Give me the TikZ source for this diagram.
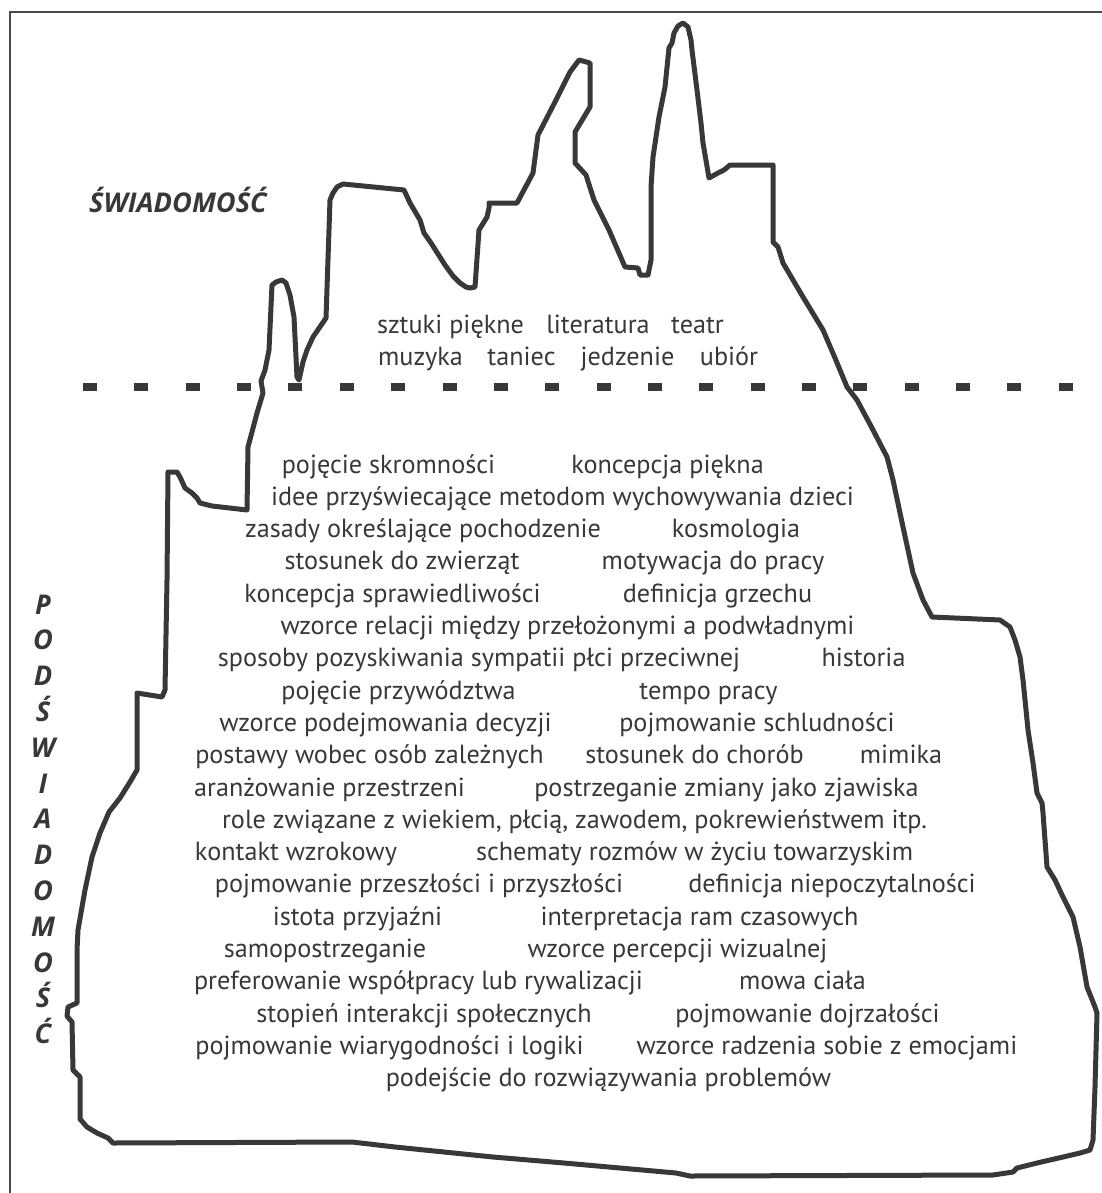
\documentclass[tikz,border=0pt]{standalone}
\usepackage{fontspec}
\setmainfont{PT Sans}
\newfontfamily\zonefont{Open Sans}
\definecolor{inkgray}{HTML}{383838}
\definecolor{framegray}{HTML}{4A4A4A}
\tikzset{
  cultitem/.style={text=inkgray, font=\fontsize{13.1}{15}\selectfont, inner sep=0pt, anchor=base},
  zonelabel/.style={text=inkgray, font=\zonefont\fontsize{13.6}{16}\selectfont\bfseries\itshape, inner sep=0pt, anchor=base},
  berg/.style={draw=inkgray, line width=2.5pt, line join=round, line cap=round},
  waterline/.style={draw=inkgray, line width=4pt, dash pattern=on 7pt off 18.68pt},
  frameline/.style={draw=framegray, line width=0.9pt}
}
\begin{document}
\begin{tikzpicture}[x=0.5pt,y=-0.5pt]
    \useasboundingbox (0,0) rectangle (1102,1193);

    % Frame (top and left edges only)
    \draw[frameline] (10,1193) -- (10,12) -- (1102,12);

    % Iceberg outline
    \draw[berg] (113,1143) -- (108,1138) -- (97,1133) -- (87,1127) -- (80,1119) -- (80,1077)
      -- (73,1070) -- (72,1022) -- (67,1016) -- (68,1007) -- (77,1003) -- (77,950) -- (78,930)
      -- (85,890) -- (92,857) -- (100,833) -- (109,812) -- (120,798) -- (130,782) -- (137,770)
      -- (137,693) -- (162,697) -- (165,690) -- (167,580) -- (168,472) -- (177,472) -- (180,477)
      -- (185,488) -- (192,493) -- (197,498) -- (200,503) -- (212,506) -- (247,510) -- (248,447)
      -- (257,413) -- (263,393) -- (261,381) -- (265,370) -- (269,350) -- (272,285) -- (276,282)
      -- (282,280) -- (286,283) -- (290,295) -- (294,317) -- (297,377) -- (299,380) -- (303,362)
      -- (307,350) -- (313,337) -- (326,318) -- (330,200) -- (333,193) -- (337,187) -- (343,184)
      -- (404,190) -- (410,203) -- (420,220) -- (424,233) -- (431,243) -- (445,265) -- (453,276)
      -- (460,283) -- (466,287) -- (470,288) -- (475,287) -- (479,230) -- (487,217) -- (489,208)
      -- (489,203) -- (517,203) -- (533,173) -- (538,135) -- (556,100) -- (570,72) -- (579,60)
      -- (590,63) -- (590,107) -- (575,132) -- (575,163) -- (586,175) -- (594,200) -- (609,230)
      -- (625,267) -- (638,268) -- (640,275) -- (648,275) -- (651,260) -- (651,187) -- (653,157)
      -- (659,117) -- (665,87) -- (669,48) -- (672,43) -- (674,33) -- (678,26) -- (683,23)
      -- (688,27) -- (691,40) -- (692,50) -- (697,90) -- (701,123) -- (703,143) -- (709,178)
      -- (718,173) -- (724,170) -- (730,165) -- (773,165) -- (773,242) -- (778,247) -- (783,263)
      -- (803,297) -- (823,330) -- (835,358) -- (847,387) -- (857,400) -- (872,428) -- (887,457)
      -- (893,480) -- (903,527) -- (913,573) -- (923,600) -- (932,617) -- (1000,620) -- (1010,627)
      -- (1015,640) -- (1020,657) -- (1023,680) -- (1028,730) -- (1033,763) -- (1037,793)
      -- (1042,803) -- (1043,813) -- (1047,867) -- (1055,880) -- (1062,895) -- (1068,907)
      -- (1073,917) -- (1080,947) -- (1087,987) -- (1095,1007) -- (1097,1013) -- (1096,1050)
      -- (1095,1087) -- (1093,1140) -- (1090,1150) -- (1080,1153) -- (1063,1157) -- (1037,1163)
      -- (1017,1168) -- (1013,1172) -- (993,1175) -- (690,1176) -- (676,1173) -- (564,1163)
      -- (493,1157) -- (395,1147) -- (352,1142) -- cycle;

    % Water line
    \draw[waterline] (83,387) -- (1075,387);

    % Zone labels
    \node[zonelabel] (swiadomosc) at (178,212) {ŚWIADOMOŚĆ};
    \foreach \ch [count=\i from 0] in {P,O,D,Ś,W,I,A,D,O,M,O,Ś,Ć}
        \node[zonelabel] (pod\i) at (43,{614+35.8*\i}) {\ch};

    % Above the water line
    \node[cultitem] (sztuki) at (450.5,333) {sztuki piękne};
    \node[cultitem] (literatura) at (598,333) {literatura};
    \node[cultitem] (teatr) at (697.5,333) {teatr};
    \node[cultitem] (muzyka) at (420.5,365) {muzyka};
    \node[cultitem] (taniec) at (521.5,365) {taniec};
    \node[cultitem] (jedzenie) at (627.5,365) {jedzenie};
    \node[cultitem] (ubior) at (729,365) {ubiór};

    % Below the water line
    \node[cultitem] (skromnosc) at (388.5,473) {pojęcie skromności};
    \node[cultitem] (piekno) at (667.5,473) {koncepcja piękna};
    \node[cultitem] (wychowanie) at (562.5,505.3) {idee przyświecające metodom wychowywania dzieci};
    \node[cultitem] (pochodzenie) at (423,537.6) {zasady określające pochodzenie};
    \node[cultitem] (kosmologia) at (736,537.6) {kosmologia};
    \node[cultitem] (zwierzeta) at (402,569.9) {stosunek do zwierząt};
    \node[cultitem] (motywacja) at (713,569.9) {motywacja do pracy};
    \node[cultitem] (sprawiedliwosc) at (392.5,602.2) {koncepcja sprawiedliwości};
    \node[cultitem] (grzech) at (717.5,602.2) {definicja grzechu};
    \node[cultitem] (relacje) at (567.5,634.5) {wzorce relacji między przełożonymi a podwładnymi};
    \node[cultitem] (sympatia) at (479,666.8) {sposoby pozyskiwania sympatii płci przeciwnej};
    \node[cultitem] (historia) at (863.5,666.8) {historia};
    \node[cultitem] (przywodztwo) at (398.5,699.1) {pojęcie przywództwa};
    \node[cultitem] (tempo) at (708.5,699.1) {tempo pracy};
    \node[cultitem] (decyzje) at (385.5,731.4) {wzorce podejmowania decyzji};
    \node[cultitem] (schludnosc) at (757,731.4) {pojmowanie schludności};
    \node[cultitem] (zalezni) at (369.5,763.7) {postawy wobec osób zależnych};
    \node[cultitem] (choroby) at (694.5,763.7) {stosunek do chorób};
    \node[cultitem] (mimika) at (901,763.7) {mimika};
    \node[cultitem] (przestrzen) at (329.5,796) {aranżowanie przestrzeni};
    \node[cultitem] (zmiana) at (726.5,796) {postrzeganie zmiany jako zjawiska};
    \node[cultitem] (role) at (574.5,828.3) {role związane z wiekiem, płcią, zawodem, pokrewieństwem itp.};
    \node[cultitem] (kontakt) at (296,860.6) {kontakt wzrokowy};
    \node[cultitem] (rozmowy) at (694.5,860.6) {schematy rozmów w życiu towarzyskim};
    \node[cultitem] (przeszlosc) at (419,892.9) {pojmowanie przeszłości i przyszłości};
    \node[cultitem] (niepoczytalnosc) at (832,892.9) {definicja niepoczytalności};
    \node[cultitem] (przyjazn) at (357.5,925.2) {istota przyjaźni};
    \node[cultitem] (czas) at (699.5,925.2) {interpretacja ram czasowych};
    \node[cultitem] (samopostrzeganie) at (325,957.5) {samopostrzeganie};
    \node[cultitem] (percepcja) at (677.5,957.5) {wzorce percepcji wizualnej};
    \node[cultitem] (wspolpraca) at (418.5,989.8) {preferowanie współpracy lub rywalizacji};
    \node[cultitem] (mowa) at (802.5,989.8) {mowa ciała};
    \node[cultitem] (interakcje) at (424,1022.1) {stopień interakcji społecznych};
    \node[cultitem] (dojrzalosc) at (807.5,1022.1) {pojmowanie dojrzałości};
    \node[cultitem] (logika) at (389.5,1054.4) {pojmowanie wiarygodności i logiki};
    \node[cultitem] (emocje) at (827,1054.4) {wzorce radzenia sobie z emocjami};
    \node[cultitem] (problemy) at (608.5,1086.7) {podejście do rozwiązywania problemów};
\end{tikzpicture}
\end{document}
